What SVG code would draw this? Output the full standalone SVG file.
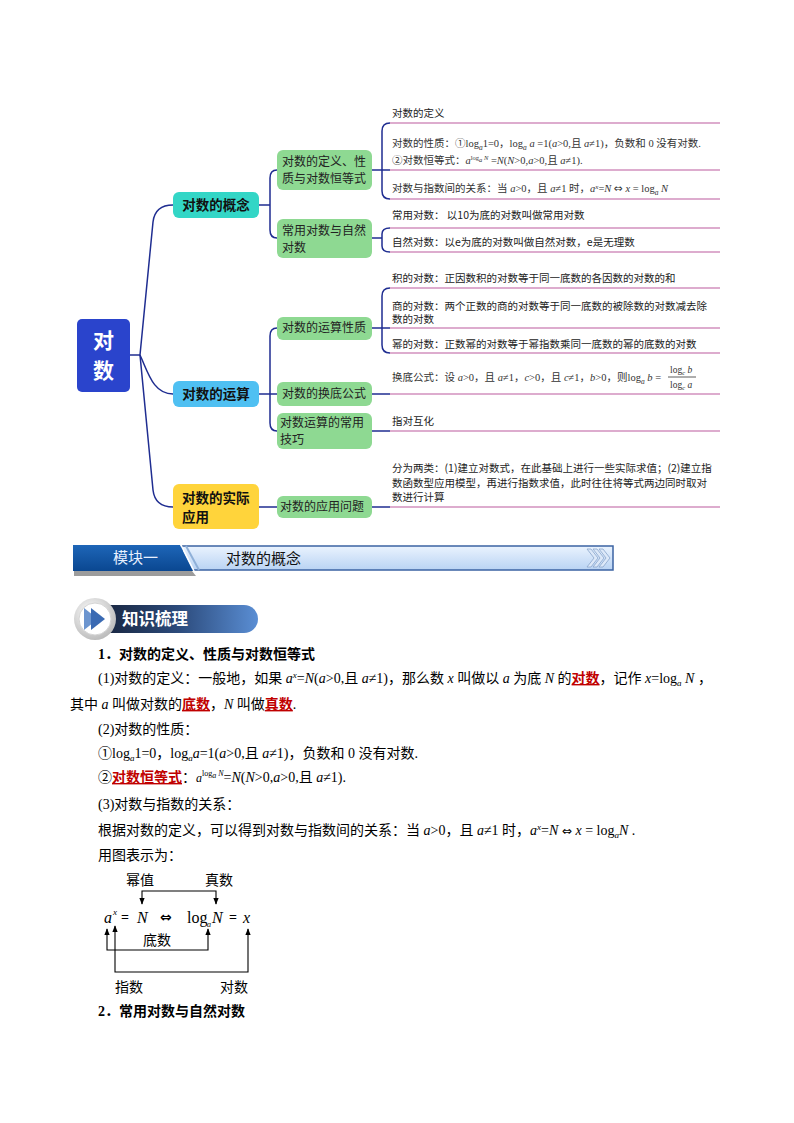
<svg xmlns="http://www.w3.org/2000/svg" width="794" height="1123" viewBox="0 0 794 1123">
<defs>
<style>
.ms{font-family:"Liberation Serif","Noto Sans CJK SC",serif;font-size:10.5px;fill:#333}
.mt{font-family:"Noto Sans CJK SC",sans-serif;font-size:10.5px;fill:#222}
.n2{font-family:"Noto Sans CJK SC",sans-serif;font-size:12px;fill:#222}
.n1{font-family:"Noto Sans CJK SC",sans-serif;font-size:13.5px;font-weight:bold;fill:#111}
.br{fill:none;stroke:#1F2D91;stroke-width:1.5}
.ul{fill:none;stroke:#D291BE;stroke-width:1.3}
.g2{fill:#8ED992}
.body{font-family:"Liberation Serif","Noto Sans CJK SC",serif;font-size:14px;fill:#000}
.hd{font-family:"Liberation Serif","Noto Sans CJK SC",serif;font-size:14px;font-weight:bold;fill:#000}
.dg{font-family:"Liberation Serif","Noto Sans CJK SC",serif;fill:#000}
.i{font-style:italic}
.ar{font-family:"DejaVu Sans",sans-serif}
.red{fill:#C00000;font-weight:bold;text-decoration:underline}
.ln{fill:none;stroke:#000;stroke-width:1.1}
</style>
<marker id="ah" viewBox="0 0 10 10" refX="9" refY="5" markerWidth="6" markerHeight="6" orient="auto-start-reverse"><path d="M0,1 L10,5 L0,9 Z" fill="#000"/></marker>
<linearGradient id="tabG" x1="0" y1="0" x2="0" y2="1"><stop offset="0" stop-color="#1E66B8"/><stop offset="1" stop-color="#0A4791"/></linearGradient>
<linearGradient id="barG" x1="0" y1="0" x2="0" y2="1"><stop offset="0" stop-color="#EAF3FE"/><stop offset="1" stop-color="#B9D3F3"/></linearGradient>
<linearGradient id="hG" x1="0" y1="0" x2="1" y2="0"><stop offset="0" stop-color="#18243C"/><stop offset="0.5" stop-color="#2C4B7C"/><stop offset="1" stop-color="#5A8ED4"/></linearGradient>
<radialGradient id="ringG" cx="0.4" cy="0.35" r="0.7"><stop offset="0" stop-color="#FFFFFF"/><stop offset="1" stop-color="#B8B8B8"/></radialGradient>
</defs>
<rect width="794" height="1123" fill="#FFFFFF"/>

<g id="connectors">
<path class="br" d="M130,355 H140"/>
<path class="br" d="M140,355 L153,222 Q155,205 173,205"/>
<path class="br" d="M140,355 C148,372 153,394 173,394"/>
<path class="br" d="M140,355 L153,490 Q155,507 173,507"/>
<path class="br" d="M259,205 H270"/>
<path class="br" d="M277,170 Q270,170 270,178 V230 Q270,238 277,238"/>
<path class="br" d="M259,394 H277"/>
<path class="br" d="M277,328 Q270,328 270,336 V423 Q270,431 277,431"/>
<path class="br" d="M259,507 H277"/>
<path class="br" d="M372,170 H390"/>
<path class="br" d="M390,123 Q382,123 382,131 V191 Q382,199 390,199"/>
<path class="br" d="M372,238 H382"/>
<path class="br" d="M390,228 Q382,228 382,234 V246 Q382,252 390,252"/>
<path class="br" d="M372,328 H390"/>
<path class="br" d="M390,288 Q382,288 382,296 V345 Q382,353 390,353"/>
<path class="br" d="M372,394 H390"/>
<path class="br" d="M372,431 H390"/>
<path class="br" d="M372,507 H390"/>
<path class="ul" d="M390,123 H720 M390,170 H720 M390,199 H720 M390,228 H720 M390,252 H720 M390,288 H720 M390,328 H720 M390,353 H720 M390,394 H720 M390,431 H720 M390,507 H720"/>
</g>

<g id="root">
<rect x="77" y="319" width="53" height="73" rx="5" fill="#2A44CC"/>
<text x="103.5" y="348" text-anchor="middle" font-family="Noto Sans CJK SC,sans-serif" font-size="21" font-weight="bold" fill="#FFFFFF">对</text>
<text x="103.5" y="378" text-anchor="middle" font-family="Noto Sans CJK SC,sans-serif" font-size="21" font-weight="bold" fill="#FFFFFF">数</text>
</g>

<g id="n-concept">
<rect x="173" y="192" width="86" height="26" rx="6" fill="#33D6C6"/>
<text class="n1" x="216" y="210" text-anchor="middle">对数的概念</text>
</g>
<g id="n-operation">
<rect x="173" y="381" width="86" height="26" rx="6" fill="#4FC0F2"/>
<text class="n1" x="216" y="399" text-anchor="middle">对数的运算</text>
</g>
<g id="n-application">
<rect x="173" y="484" width="86" height="45" rx="6" fill="#FFD43B"/>
<text class="n1" x="182" y="503">对数的实际</text>
<text class="n1" x="182" y="522">应用</text>
</g>

<g id="n-def">
<rect class="g2" x="277" y="150" width="95" height="40" rx="6"/>
<text class="n2" x="282" y="166">对数的定义、性</text>
<text class="n2" x="282" y="183">质与对数恒等式</text>
</g>
<g id="n-common">
<rect class="g2" x="277" y="219" width="95" height="39" rx="6"/>
<text class="n2" x="282" y="235">常用对数与自然</text>
<text class="n2" x="282" y="252">对数</text>
</g>
<g id="n-rules">
<rect class="g2" x="277" y="317" width="95" height="23" rx="6"/>
<text class="n2" x="282" y="332">对数的运算性质</text>
</g>
<g id="n-change">
<rect class="g2" x="277" y="382" width="95" height="24" rx="6"/>
<text class="n2" x="282" y="398">对数的换底公式</text>
</g>
<g id="n-tricks">
<rect class="g2" x="277" y="413" width="95" height="36" rx="6"/>
<text class="n2" x="280" y="427">对数运算的常用</text>
<text class="n2" x="280" y="444">技巧</text>
</g>
<g id="n-app">
<rect class="g2" x="277" y="496" width="95" height="22" rx="6"/>
<text class="n2" x="280" y="511">对数的应用问题</text>
</g>

<g id="items">
<text class="mt" x="392" y="117">对数的定义</text>
<text class="ms" x="392" y="147">对数的性质：①log<tspan font-size="7.5" class="i" baseline-shift="-2.5">a</tspan>1=0，log<tspan font-size="7.5" class="i" baseline-shift="-2.5">a</tspan> <tspan class="i">a</tspan> =1(<tspan class="i">a</tspan>&gt;0,且 <tspan class="i">a</tspan>≠1)，负数和 0 没有对数.</text>
<text class="ms" x="392" y="164">②对数恒等式：<tspan class="i">a</tspan><tspan font-size="6.5" baseline-shift="4">log<tspan class="i" baseline-shift="-1.5">a</tspan> <tspan class="i">N</tspan></tspan> =<tspan class="i">N</tspan>(<tspan class="i">N</tspan>&gt;0,<tspan class="i">a</tspan>&gt;0,且 <tspan class="i">a</tspan>≠1).</text>
<text class="ms" x="392" y="192">对数与指数间的关系：当 <tspan class="i">a</tspan>&gt;0，且 <tspan class="i">a</tspan>≠1 时，<tspan class="i">a</tspan><tspan class="i" font-size="7" baseline-shift="3.5">x</tspan>=<tspan class="i">N</tspan> <tspan class="ar">⇔</tspan> <tspan class="i">x</tspan> = log<tspan font-size="7.5" class="i" baseline-shift="-2.5">a</tspan> <tspan class="i">N</tspan></text>
<text class="mt" x="392" y="219">常用对数：  以10为底的对数叫做常用对数</text>
<text class="mt" x="392" y="246">自然对数：以e为底的对数叫做自然对数，e是无理数</text>
<text class="mt" x="392" y="282">积的对数：正因数积的对数等于同一底数的各因数的对数的和</text>
<text class="mt" x="392" y="310">商的对数：两个正数的商的对数等于同一底数的被除数的对数减去除</text>
<text class="mt" x="392" y="323">数的对数</text>
<text class="mt" x="392" y="348">幂的对数：正数幂的对数等于幂指数乘同一底数的幂的底数的对数</text>
<text class="ms" x="392" y="381">换底公式：设 <tspan class="i">a</tspan>&gt;0，且 <tspan class="i">a</tspan>≠1，<tspan class="i">c</tspan>&gt;0，且 <tspan class="i">c</tspan>≠1，<tspan class="i">b</tspan>&gt;0，则log<tspan font-size="7.5" class="i" baseline-shift="-2.5">a</tspan> <tspan class="i">b</tspan> =</text>
<text class="ms" x="670" y="373" style="font-size:9.5px">log<tspan font-size="6.5" class="i" baseline-shift="-2">c</tspan> <tspan class="i">b</tspan></text>
<path d="M668,377 H696" stroke="#333" stroke-width="0.8"/>
<text class="ms" x="670" y="388" style="font-size:9.5px">log<tspan font-size="6.5" class="i" baseline-shift="-2">c</tspan> <tspan class="i">a</tspan></text>
<text class="mt" x="392" y="425">指对互化</text>
<text class="mt" x="392" y="472">分为两类：(1)建立对数式，在此基础上进行一些实际求值；(2)建立指</text>
<text class="mt" x="392" y="487">数函数型应用模型，再进行指数求值，此时往往将等式两边同时取对</text>
<text class="mt" x="392" y="501">数进行计算</text>
</g>

<g id="banner">
<path d="M74,571 H192 L196,576 H74 Z" fill="#9C9C9C"/>
<rect x="182" y="546" width="431" height="24" fill="url(#barG)" stroke="#3B63A3" stroke-width="1.5"/>
<path d="M73,545 H180 L193,571 H73 Z" fill="url(#tabG)"/>
<path d="M181,545 L194,571" stroke="#FFFFFF" stroke-width="1.5"/>
<path d="M186,546 L199,570" stroke="#8FB0D8" stroke-width="2"/>
<text x="113" y="563" font-family="Noto Sans CJK SC,sans-serif" font-size="15" fill="#E8F0FF">模块一</text>
<text x="226" y="564" font-family="Noto Sans CJK SC,sans-serif" font-size="15" fill="#111">对数的概念</text>
<path d="M587,549 L594,558 L587,567 H591 L598,558 L591,549 Z M593,549 L600,558 L593,567 H597 L604,558 L597,549 Z M599,549 L606,558 L599,567 H603 L610,558 L603,549 Z" fill="#DCE8F8" stroke="#8AA6CC" stroke-width="0.8"/>
</g>

<g id="heading">
<path d="M100,605 H244 A14,14 0 0 1 244,633 H100 Z" fill="url(#hG)"/>
<circle cx="95" cy="619" r="21" fill="url(#ringG)"/>
<circle cx="95" cy="619" r="16" fill="#FFFFFF" stroke="#D4D4D4" stroke-width="1"/>
<polygon points="84,608 98,619 84,630" fill="#6C95CF"/>
<polygon points="91,608 105,619 91,630" fill="#3A6AB3"/>
<text x="122" y="625" font-family="Noto Sans CJK SC,sans-serif" font-size="16.5" font-weight="bold" fill="#FFFFFF">知识梳理</text>
</g>

<g id="content">
<text class="hd" x="98" y="659">1．对数的定义、性质与对数恒等式</text>
<text class="body" x="98" y="683">(1)对数的定义：一般地，如果 <tspan class="i">a</tspan><tspan class="i" font-size="9" baseline-shift="5">x</tspan>=<tspan class="i">N</tspan>(<tspan class="i">a</tspan>&gt;0,且 <tspan class="i">a</tspan>≠1)，那么数 <tspan class="i">x</tspan> 叫做以 <tspan class="i">a</tspan> 为底 <tspan class="i">N</tspan> 的<tspan class="red">对数</tspan>，记作 <tspan class="i">x</tspan>=log<tspan class="i" font-size="9" baseline-shift="-3">a</tspan> <tspan class="i">N</tspan> ，</text>
<text class="body" x="70" y="709">其中 <tspan class="i">a</tspan> 叫做对数的<tspan class="red">底数</tspan>，<tspan class="i">N</tspan> 叫做<tspan class="red">真数</tspan>.</text>
<text class="body" x="98" y="734">(2)对数的性质：</text>
<text class="body" x="98" y="758">①log<tspan class="i" font-size="9" baseline-shift="-3">a</tspan>1=0，log<tspan class="i" font-size="9" baseline-shift="-3">a</tspan><tspan class="i">a</tspan>=1(<tspan class="i">a</tspan>&gt;0,且 <tspan class="i">a</tspan>≠1)，负数和 0 没有对数.</text>
<text class="body" x="98" y="782">②<tspan class="red">对数恒等式</tspan>：<tspan class="i" font-size="12">a</tspan><tspan font-size="8" baseline-shift="6">log<tspan class="i" baseline-shift="-2">a</tspan> <tspan class="i">N</tspan></tspan>=<tspan class="i">N</tspan>(<tspan class="i">N</tspan>&gt;0,<tspan class="i">a</tspan>&gt;0,且 <tspan class="i">a</tspan>≠1).</text>
<text class="body" x="98" y="809">(3)对数与指数的关系：</text>
<text class="body" x="98" y="835">根据对数的定义，可以得到对数与指数间的关系：当 <tspan class="i">a</tspan>&gt;0，且 <tspan class="i">a</tspan>≠1 时，<tspan class="i">a</tspan><tspan class="i" font-size="9" baseline-shift="5">x</tspan>=<tspan class="i">N</tspan> <tspan class="ar" font-size="12">⇔</tspan> <tspan class="i">x</tspan> = log<tspan class="i" font-size="9" baseline-shift="-3">a</tspan><tspan class="i">N</tspan> .</text>
<text class="body" x="98" y="860">用图表示为：</text>
</g>

<g id="relation-diagram">
<text class="dg" x="126" y="885" style="font-size:14px">幂值</text>
<text class="dg" x="205" y="885" style="font-size:14px">真数</text>
<path class="ln" d="M142,904 V891 H216 V904" marker-start="url(#ah)" marker-end="url(#ah)"/>
<text class="dg i" x="104" y="923" style="font-size:16px">a</text>
<text class="dg i" x="113" y="915" style="font-size:9px">x</text>
<text class="dg" x="121" y="922" style="font-size:14px;font-weight:bold">=</text>
<text class="dg i" x="137" y="923" style="font-size:16px">N</text>
<text class="ar" x="160" y="922" style="font-size:14px;font-weight:bold">⇔</text>
<text class="dg" x="187" y="923" style="font-size:16px">log</text>
<text class="dg i" x="207" y="927" style="font-size:8px">a</text>
<text class="dg i" x="212" y="923" style="font-size:16px">N</text>
<text class="dg" x="229" y="922" style="font-size:14px;font-weight:bold">=</text>
<text class="dg i" x="243" y="923" style="font-size:16px">x</text>
<path class="ln" d="M107,929 V950 H208 V929" marker-start="url(#ah)" marker-end="url(#ah)"/>
<path class="ln" d="M115,926 V972 H248 V929" marker-start="url(#ah)" marker-end="url(#ah)"/>
<text class="dg" x="143" y="945" style="font-size:14px">底数</text>
<text class="dg" x="115" y="992" style="font-size:14px">指数</text>
<text class="dg" x="220" y="992" style="font-size:14px">对数</text>
</g>

<text class="hd" x="98" y="1016">2．常用对数与自然对数</text>
</svg>
